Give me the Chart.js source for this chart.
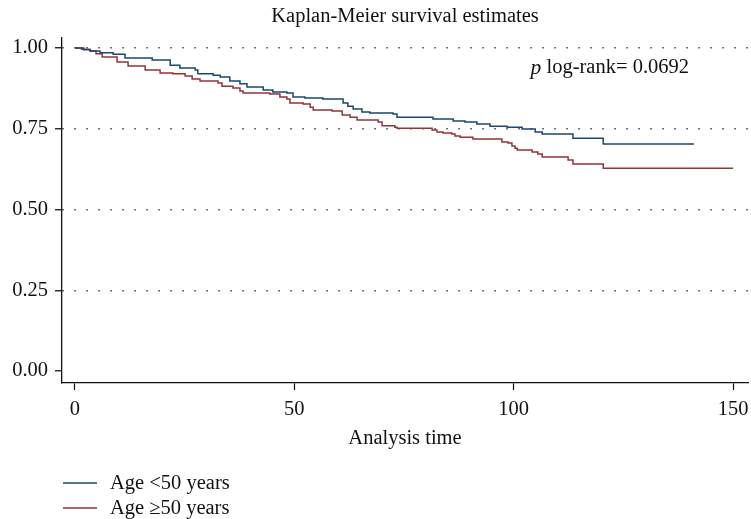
<!DOCTYPE html>
<html>
<head>
<meta charset="utf-8">
<script src="https://cdn.jsdelivr.net/npm/chart.js@4.4.1/dist/chart.umd.min.js"></script>
<style>
  html, body { margin: 0; padding: 0; background: #fff; }
  .chart-wrap { width: 751px; height: 519px; position: relative; }
</style>
</head>
<body>
<div class="chart-wrap"><canvas id="km"></canvas></div>
<script>
// Kaplan-Meier step data (time, survival after the event)
const youngTimes = [0, 2.0, 3.5, 5.7, 8.7, 11.4, 17.6, 21.7, 23.9, 27.4, 28.0, 31.5, 33.1, 35.3, 37.6, 39.2, 42.9, 45.1, 48.3, 49.7, 52.4, 56.5, 61.1, 62.2, 63.4, 65.4, 67.2, 72.5, 73.4, 81.6, 86.2, 88.9, 91.6, 94.6, 98.5, 101.9, 104.9, 106.5, 113.5, 120.4, 141.1];
const youngSurv = [1.0, 0.995, 0.991, 0.985, 0.981, 0.969, 0.963, 0.947, 0.938, 0.932, 0.920, 0.916, 0.910, 0.898, 0.889, 0.879, 0.870, 0.864, 0.861, 0.848, 0.845, 0.842, 0.830, 0.820, 0.811, 0.802, 0.799, 0.796, 0.786, 0.780, 0.774, 0.771, 0.765, 0.758, 0.755, 0.749, 0.740, 0.734, 0.721, 0.703, 0.703];
const oldTimes = [0, 1.5, 3.4, 4.8, 6.2, 9.6, 12.1, 16.0, 19.4, 22.3, 25.1, 26.7, 28.5, 32.6, 33.5, 36.0, 37.6, 38.3, 44.4, 46.7, 48.3, 49.0, 52.0, 53.6, 54.3, 58.6, 60.9, 62.7, 64.3, 69.1, 70.0, 72.9, 73.4, 81.4, 82.5, 83.9, 85.9, 86.6, 87.8, 90.7, 97.3, 98.7, 99.6, 100.3, 100.8, 104.2, 105.5, 106.5, 112.4, 113.5, 120.4, 150];
const oldSurv = [1.0, 0.996, 0.991, 0.982, 0.972, 0.957, 0.944, 0.932, 0.923, 0.920, 0.913, 0.904, 0.898, 0.892, 0.882, 0.876, 0.867, 0.861, 0.858, 0.848, 0.842, 0.830, 0.827, 0.817, 0.808, 0.805, 0.793, 0.786, 0.777, 0.771, 0.759, 0.755, 0.752, 0.746, 0.740, 0.737, 0.734, 0.728, 0.724, 0.718, 0.709, 0.706, 0.697, 0.690, 0.684, 0.678, 0.672, 0.663, 0.653, 0.641, 0.628, 0.628];

const seriesLabels = ['Age <50 years', 'Age \u226550 years'];
const xTicks = [0, 50, 100, 150];
const yTicks = [0, 0.25, 0.5, 0.75, 1];
const titleText = 'Kaplan-Meier survival estimates';
const xTitle = 'Analysis time';
const pValue = '0.0692';

const NAVY = '#1a476f';
const MAROON = '#90353b';
const SERIF = "'Liberation Serif', 'DejaVu Serif', serif";
const FS = 20.5;

const toPts = (ts, ss) => ts.map((t, i) => ({ x: t, y: ss[i] }));

// title over plot area, p-value note, and the stacked legend below the axis
const decor = {
  id: 'decor',
  afterDraw(chart) {
    const { ctx, chartArea, scales } = chart;
    ctx.save();
    ctx.fillStyle = '#111';
    ctx.textBaseline = 'middle';
    ctx.textAlign = 'center';
    ctx.font = `${FS}px ${SERIF}`;
    ctx.fillText(titleText, (chartArea.left + chartArea.right) / 2, 17);

    // p log-rank note, anchored in data units
    const nx = scales.x.getPixelForValue(103.8);
    const ny = scales.y.getPixelForValue(0.938);
    ctx.textAlign = 'left';
    ctx.font = `italic ${FS + 1}px ${SERIF}`;
    ctx.fillText('p', nx, ny);
    const pw = ctx.measureText('p ').width;
    ctx.font = `${FS}px ${SERIF}`;
    ctx.fillText('log-rank= ' + pValue, nx + pw, ny);

    // legend
    chart.data.datasets.forEach((ds, i) => {
      const y = 483 + i * 25;
      ctx.strokeStyle = ds.borderColor;
      ctx.lineWidth = 1.5;
      ctx.beginPath();
      ctx.moveTo(63, y);
      ctx.lineTo(97, y);
      ctx.stroke();
      ctx.font = `${FS}px ${SERIF}`;
      ctx.fillText(ds.label, 110, y + 1);
    });
    ctx.restore();
  }
};

new Chart(document.getElementById('km'), {
  type: 'line',
  data: {
    datasets: [
      { label: seriesLabels[0], data: toPts(youngTimes, youngSurv), borderColor: NAVY, borderWidth: 1.5, stepped: 'before', pointRadius: 0, fill: false },
      { label: seriesLabels[1], data: toPts(oldTimes, oldSurv), borderColor: MAROON, borderWidth: 1.5, stepped: 'before', pointRadius: 0, fill: false },
    ]
  },
  options: {
    responsive: true, maintainAspectRatio: false, animation: false,
    layout: { padding: { top: 38, right: 3, bottom: 64, left: 0 } },
    plugins: { legend: { display: false }, tooltip: { enabled: false } },
    scales: {
      x: {
        type: 'linear', min: -2.96, max: 153.4,
        afterBuildTicks: s => { s.ticks = xTicks.map(v => ({ value: v })); },
        // fixed height; drop the label-overflow padding so the plot keeps its width
        afterFit: s => { s.height = 72; s.paddingLeft = 0; s.paddingRight = 0; },
        grid: { drawOnChartArea: false, drawTicks: true, tickLength: 7, tickColor: '#111', tickWidth: 1.2 },
        border: { color: '#111', width: 1.3 },
        ticks: { color: '#111', font: { family: SERIF, size: FS }, padding: 7, maxRotation: 0 },
        title: { display: true, text: xTitle, color: '#111', font: { family: SERIF, size: FS }, padding: { top: 6 } }
      },
      y: {
        min: -0.037, max: 1.031,
        afterBuildTicks: s => { s.ticks = yTicks.map(v => ({ value: v })); },
        afterFit: s => { s.width = 62; },
        grid: {
          color: c => (c.tick && c.tick.value === 0) ? 'rgba(0,0,0,0)' : '#444',
          lineWidth: 1.5, drawTicks: true, tickLength: 7, tickColor: '#111', tickWidth: 1.3
        },
        border: { color: '#111', width: 1.3, dash: [1.5, 10.5] },
        ticks: { color: '#111', font: { family: SERIF, size: FS }, padding: 7, callback: v => v.toFixed(2) }
      }
    }
  },
  plugins: [decor]
});
</script>
</body>
</html>
